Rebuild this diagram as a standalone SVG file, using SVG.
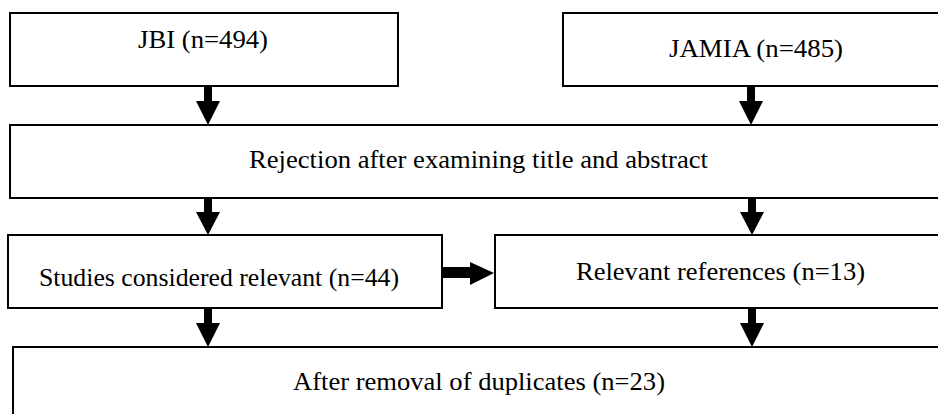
<svg xmlns="http://www.w3.org/2000/svg" width="938" height="414" viewBox="0 0 938 414">
<style>
.box{fill:#fff;stroke:#000;stroke-width:2}
.t{font-family:"Liberation Serif","Times New Roman",serif;font-size:25px;fill:#000}
.arr{fill:#000}
</style>
<rect width="938" height="414" fill="#fff"/>
<g id="n_jbi"><rect class="box" x="10" y="13" width="388" height="73"/><text class="t" x="138" y="48" textLength="130" lengthAdjust="spacingAndGlyphs">JBI (n=494)</text></g>
<g id="n_jamia"><rect class="box" x="563" y="13" width="390" height="73"/><text class="t" x="669" y="57" textLength="174" lengthAdjust="spacingAndGlyphs">JAMIA (n=485)</text></g>
<g id="n_reject"><rect class="box" x="10" y="125" width="943" height="73"/><text class="t" x="249" y="168" textLength="459" lengthAdjust="spacingAndGlyphs">Rejection after examining title and abstract</text></g>
<g id="n_studies"><rect class="box" x="8" y="235" width="434" height="73"/><text class="t" x="39" y="286" textLength="360" lengthAdjust="spacingAndGlyphs">Studies considered relevant (n=44)</text></g>
<g id="n_refs"><rect class="box" x="495" y="235" width="458" height="73"/><text class="t" x="576" y="280" textLength="289" lengthAdjust="spacingAndGlyphs">Relevant references (n=13)</text></g>
<g id="n_after"><rect class="box" x="13" y="347" width="940" height="80"/><text class="t" x="293" y="390" textLength="372" lengthAdjust="spacingAndGlyphs">After removal of duplicates (n=23)</text></g>
<g id="connectors" class="arr">
<polygon points="204,87 212,87 212,101 220,101 208,125 196,101 204,101"/>
<polygon points="747,87 755,87 755,101 763,101 751,125 739,101 747,101"/>
<polygon points="204,199 212,199 212,212 220,212 208,235 196,212 204,212"/>
<polygon points="748,199 756,199 756,212 764,212 752,235 740,212 748,212"/>
<polygon points="204,309 212,309 212,323 220,323 208,347 196,323 204,323"/>
<polygon points="748,309 756,309 756,323 764,323 752,347 740,323 748,323"/>
<polygon points="443,267 470,267 470,262 494,273 470,285 470,278 443,278"/>
</g>
</svg>
